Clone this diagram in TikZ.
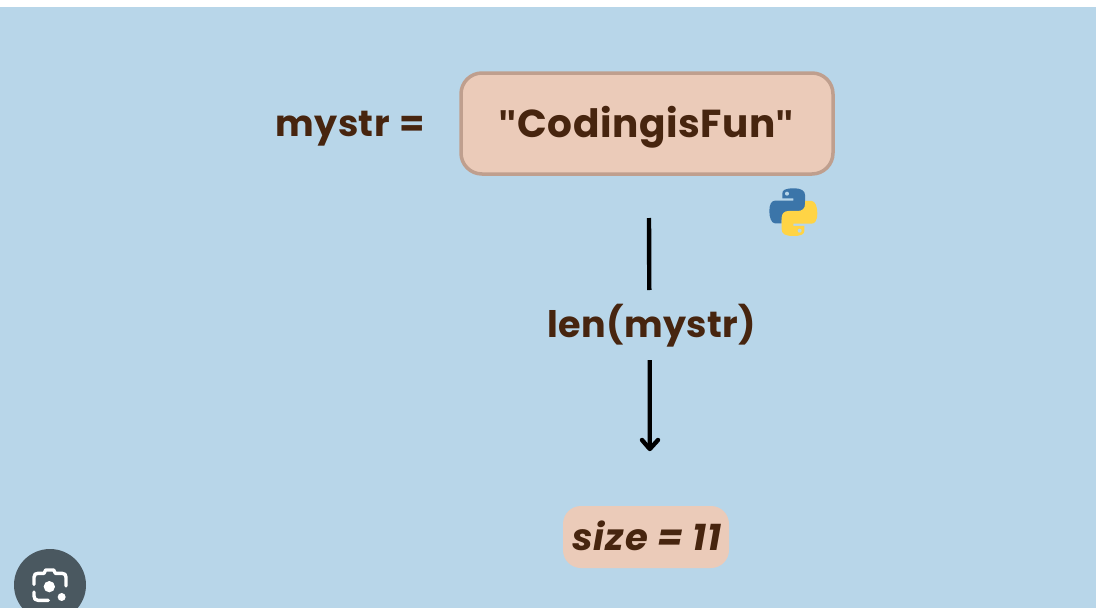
\documentclass[tikz,border=0pt]{standalone}
\usepackage{fontspec}
\newfontfamily\labelfont{Poppins Bold}[LetterSpace=1]
\newfontfamily\boxfont{Poppins Bold}[LetterSpace=1.5]
\newfontfamily\resultfont{Poppins Bold Italic}[LetterSpace=2.7]
\newfontfamily\quotefont{Liberation Sans Bold}
\definecolor{bgblue}{HTML}{B8D6E9}
\definecolor{peach}{HTML}{EBCBB9}
\definecolor{peachedge}{HTML}{BF9F8E}
\definecolor{ink}{HTML}{47250F}
\definecolor{pyblue}{HTML}{3B75A9}
\definecolor{pyyellow}{HTML}{FFD445}
\definecolor{lensgrey}{HTML}{4A5860}
\tikzset{
  label text/.style={text=ink,font=\labelfont\fontsize{36.5}{37}\selectfont,inner sep=0pt,anchor=base},
  connector/.style={line width=4.4pt,draw=black},
  lens line/.style={draw=white,line width=3.4pt,line cap=round,line join=round}
}
\newcommand{\snakepath}{
  (127,100) .. controls (127,90) and (137,85) .. (160,85)
  .. controls (185,85) and (195,92) .. (195,105)
  -- (195,140) .. controls (195,152) and (187,160) .. (175,160)
  -- (147,160) .. controls (133,160) and (125,168) .. (125,180)
  -- (125,190) -- (105,190) .. controls (94,190) and (88,172) .. (88,153)
  .. controls (88,134) and (94,122) .. (105,122)
  -- (160,122) -- (160,115) -- (127,115) -- cycle
}
\begin{document}
\begin{tikzpicture}[x=1pt,y=-1pt]
\useasboundingbox (0,0) rectangle (1096,608);
\fill[white] (0,0) rectangle (1096,608);
\fill[bgblue] (0,7) rectangle (1096,608);

% main box
\node[draw=peachedge,fill=peach,line width=3.5pt,rounded corners=21pt,
  minimum width=372pt,minimum height=101pt,inner sep=0pt] (strbox) at (647,123.5) {};
\node[label text,font=\boxfont\fontsize{39}{39}\selectfont] (strtext) at (646.5,137) {{\quotefont"}CodingisFun{\quotefont"}};
\node[label text] (assign) at (350.5,136) {mystr\hspace{2pt} =};
\node[label text] (lencall) at (652,337) {len(mystr)};

% result box
\node[fill=peach,rounded corners=18pt,minimum width=166pt,minimum height=62pt,inner sep=0pt] (sizebox) at (646,537) {};
\node[label text,font=\resultfont\fontsize{37}{37}\selectfont] (sizetext) at (647,550.5) {size = 11};

% connectors
\coordinate (linetop) at (649,218);
\coordinate (linebottom) at (649.3,290);
\coordinate (arrowtop) at (649.7,360);
\coordinate (arrowend) at (649.8,449);
\draw[connector] (linetop) -- (linebottom);
\draw[connector] (arrowtop) -- (arrowend);
\coordinate (tipleft) at (642,440);
\coordinate (tipright) at (658,440);
\draw[connector,line cap=round,line join=round] (tipleft) -- (arrowend) -- (tipright);

% python logo
\begin{scope}[shift={(740,160)},x=0.3333pt,y=-0.3333pt]
  \fill[pyblue] \snakepath;
  \fill[bgblue] (141,101) circle[radius=6];
  \begin{scope}[rotate around={180:(160,156.5)}]
    \fill[pyyellow] \snakepath;
    \fill[bgblue] (141,101) circle[radius=6];
  \end{scope}
\end{scope}

% lens button
\begin{scope}
  \clip (0,0) rectangle (1096,608);
  \fill[lensgrey] (50,585) circle[radius=36];
  \begin{scope}[shift={(0,530)},x=0.3333pt,y=-0.3333pt]
    \draw[lens line] (102,163) -- (102,142) .. controls (102,133) and (107,130) .. (114,130)
       -- (132,130) -- (137,120) -- (161,120) -- (166,130) -- (186,130)
       .. controls (194,130) and (198,134) .. (198,142) -- (198,168);
    \draw[lens line] (102,186) -- (102,198) .. controls (102,206) and (106,211) .. (114,211) -- (145,211);
    \fill[white] (148,170) circle[radius=17];
    \fill[white] (185,201) circle[radius=12];
  \end{scope}
\end{scope}
\end{tikzpicture}
\end{document}
